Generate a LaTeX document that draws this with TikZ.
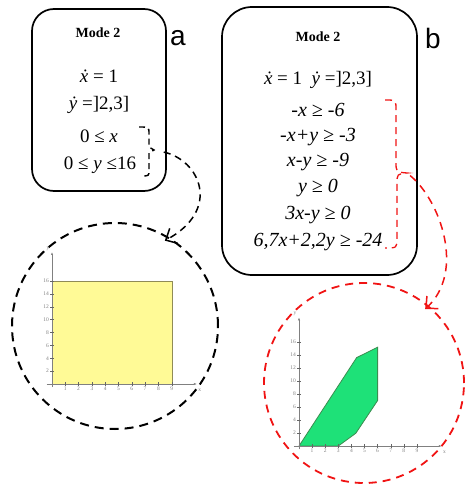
\documentclass[tikz,border=0pt]{standalone}
\usepackage{fontspec}
\setmainfont{Liberation Serif}
\newfontfamily\tagfont{Liberation Sans}
\usetikzlibrary{arrows.meta,positioning}
\definecolor{ringred}{RGB}{240,20,20}
\definecolor{regionyellow}{RGB}{255,250,150}
\definecolor{regiongreen}{RGB}{30,225,120}
\definecolor{edgegreen}{RGB}{60,140,80}

\begin{document}
\begin{tikzpicture}[x=1pt, y=-1pt, font=\fontsize{19}{21}\selectfont]
\tikzstyle{mode}=[rectangle, rounded corners=22pt, draw, line width=1.7pt]
\tikzstyle{title}=[font=\bfseries\fontsize{14}{16}\selectfont, anchor=base, inner sep=0pt]
\tikzstyle{eq}=[anchor=base, inner sep=0pt]
\tikzstyle{tag}=[font=\tagfont\fontsize{28}{30}\selectfont, anchor=base, inner sep=0pt]
\tikzstyle{ring}=[circle, draw, line width=2pt, dash pattern=on 9pt off 6pt, inner sep=0pt]
\tikzstyle{lbl}=[font=\fontsize{5.5}{6}\selectfont, text=gray, inner sep=1pt]
\tikzstyle{axis}=[gray, line width=0.8pt]
\useasboundingbox (0,0) rectangle (464,486);

% mode a
\node[mode, minimum width=134pt, minimum height=182pt] (modeA) at (99,100) {};
\node[title] (titleA) at (98,38) {Mode 2};
\node[eq] (eqA1) at (99,83) {\textit{ẋ} = 1};
\node[eq] (eqA2) at (99,110) {\textit{ẏ} =]2,3]};
\node[eq] (eqA3) at (99,143) {0 ≤ \textit{x}};
\node[eq] (eqA4) at (100,170) {0 ≤ \textit{y} ≤16};
\node[tag] (tagA) at (178,46) {a};

% mode b
\node[mode, rounded corners=30pt, minimum width=195pt, minimum height=268pt] (modeB) at (319.5,141) {};
\node[title] (titleB) at (318,42) {Mode 2};
\node[eq] (eqB0) at (318,85) {\textit{ẋ} = 1\enspace\textit{ẏ} =]2,3]};
\begin{scope}[every node/.style={eq, font=\itshape\fontsize{20}{22}\selectfont}]
\node (eqB1) at (318,117) {-x ≥ -6};
\node (eqB2) at (318,142) {-x+y ≥ -3};
\node (eqB3) at (318,167) {x-y ≥ -9};
\node (eqB4) at (318,193) {y ≥ 0};
\node (eqB5) at (318,219) {3x-y ≥ 0};
\node (eqB6) at (318,246) {6,7x+2,2y ≥ -24};
\end{scope}
\node[tag] (tagB) at (433,49) {b};

% braces and links
\coordinate (tipA) at (154,150);
\draw[line width=1.4pt, dash pattern=on 6pt off 4pt]
  (139,127) .. controls (149,127) .. (149,134) -- (149,147) -- (tipA) -- (149,153) -- (149,170) .. controls (149,176) .. (141,176);
\coordinate (tipB) at (407,173);
\draw[ringred, line width=1.3pt, dash pattern=on 7pt off 5pt]
  (385,100) .. controls (396,100) .. (396,110) -- (396,162) .. controls (396,172) .. (tipB)
  .. controls (397,174) .. (397,184) -- (397,238) .. controls (397,248) .. (385,248);

\node[ring, minimum size=206pt] (ringA) at (115,326) {};
\node[ring, ringred, line width=1.8pt, dash pattern=on 8pt off 6pt, minimum size=200pt] (ringB) at (364,383) {};

\draw[line width=1.5pt, dash pattern=on 7pt off 5pt, -{Straight Barb[length=9pt,width=17pt]}, shorten <=10pt, shorten >=-6pt]
  (tipA) .. controls (200,160) and (222,210) .. (ringA.58);
\draw[ringred, line width=1.5pt, dash pattern=on 8pt off 6pt, -{Straight Barb[length=9pt,width=17pt]}, shorten <=4pt, shorten >=-5pt]
  (tipB) .. controls (440,200) and (466,272) .. (ringB.50);

% region a
\begin{scope}[shift={(52,384)}, x=13.3pt, y=6.44pt]
\filldraw[fill=regionyellow, draw=gray!60!olive] (0,0) rectangle (9,16);
\draw[axis, -{Latex[length=3pt]}] (-0.4,0) -- (10.9,0);
\draw[axis, -{Latex[length=3pt]}] (0,-0.5) -- (0,20.5);
\foreach \i in {1,...,9} \draw[gray!80!black] (\i,0.3) -- (\i,-0.3) node[lbl, below] {\i};
\foreach \j in {2,4,...,16} \draw[gray!80!black] (-0.15,\j) -- (0.15,\j) (-0.15,\j) node[lbl, left] {\j};
\node[lbl] (axAx) at (11.1,-0.9) {x};
\node[lbl] (axAy) at (-0.3,21) {y};
\end{scope}

% region b
\begin{scope}[shift={(299,446)}, x=13.1pt, y=6.5pt]
\filldraw[fill=regiongreen, draw=edgegreen, line width=0.8pt]
  (0,0) -- (3,0) -- (4.33,1.95) -- (6,7) -- (6,15.2) -- (4.4,13.6) -- cycle;
\draw[axis, -{Latex[length=3pt]}] (-0.4,0) -- (10.9,0);
\draw[axis, -{Latex[length=3pt]}] (0,-0.5) -- (0,19.8);
\foreach \i in {1,...,9} \draw[gray!80!black] (\i,0.3) -- (\i,-0.3) node[lbl, below] {\i};
\foreach \j in {2,4,...,16} \draw[gray!80!black] (-0.15,\j) -- (0.15,\j) (-0.15,\j) node[lbl, left] {\j};
\node[lbl] (axBx) at (11.1,-0.9) {x};
\node[lbl] (axBy) at (-0.3,20.3) {y};
\end{scope}
\end{tikzpicture}
\end{document}
